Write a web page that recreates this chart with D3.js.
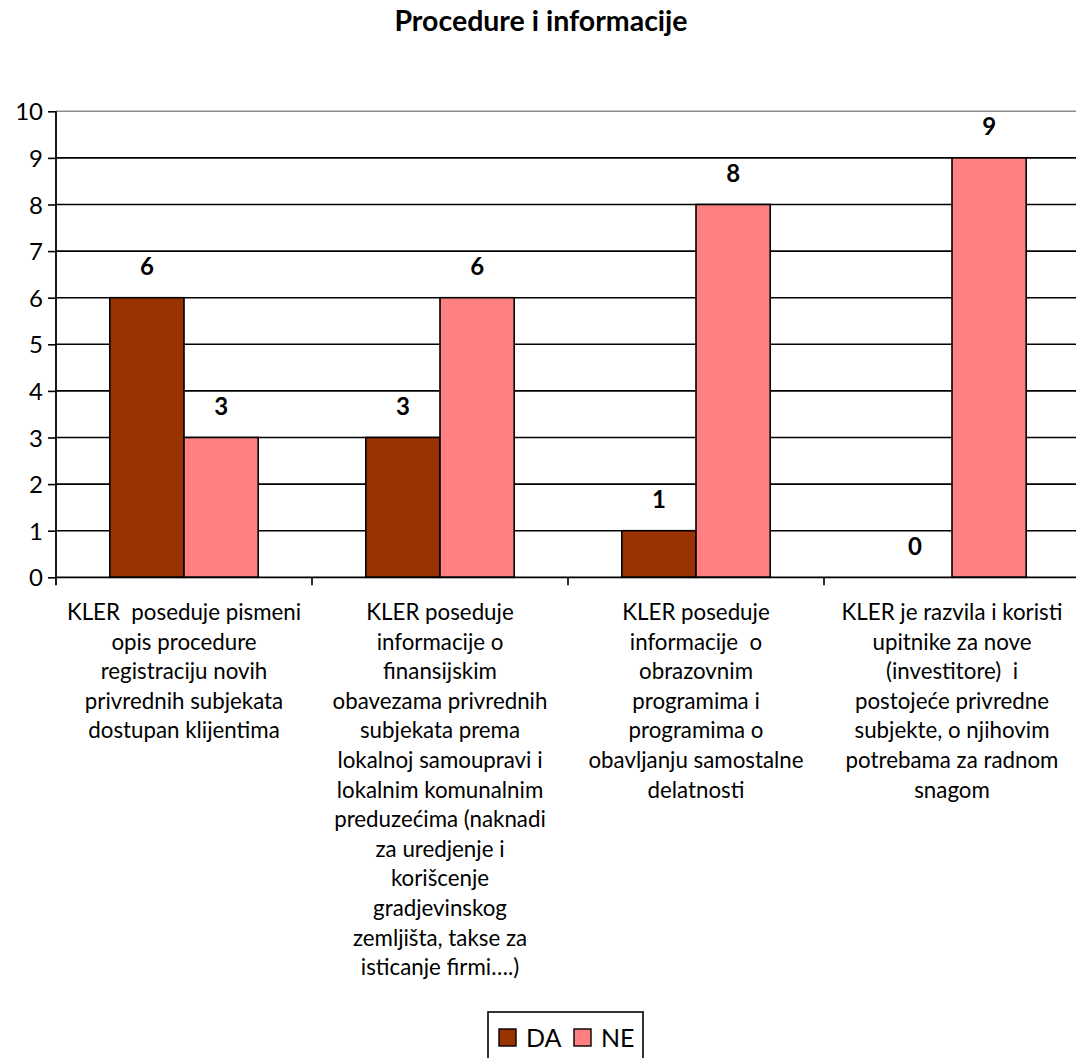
<!DOCTYPE html>
<html>
<head>
<meta charset="utf-8">
<script src="https://cdn.jsdelivr.net/npm/d3@7"></script>
<style>
  html, body { margin: 0; padding: 0; background: #fff; }
  svg { display: block; font-family: Lato, "Noto Sans", sans-serif; }
</style>
</head>
<body>
<svg id="chart" width="1076" height="1058"></svg>
<script>
const title = "Procedure i informacije";

const categories = [
  ["KLER  poseduje pismeni", "opis procedure", "registraciju novih", "privrednih subjekata", "dostupan klijentima"],
  ["KLER poseduje", "informacije o", "finansijskim", "obavezama privrednih", "subjekata prema", "lokalnoj samoupravi i", "lokalnim komunalnim", "preduzećima (naknadi", "za uredjenje i", "korišcenje", "gradjevinskog", "zemljišta, takse za", "isticanje firmi….)"],
  ["KLER poseduje", "informacije  o", "obrazovnim", "programima i", "programima o", "obavljanju samostalne", "delatnosti"],
  ["KLER je razvila i koristi", "upitnike za nove", "(investitore)  i", "postojeće privredne", "subjekte, o njihovim", "potrebama za radnom", "snagom"]
];

const seriesNames = ["DA", "NE"];
const daValues = [6, 3, 1, 0];
const neValues = [3, 6, 8, 9];
const seriesColors = ["#993300", "#FF8080"];
const yTicks = [0, 1, 2, 3, 4, 5, 6, 7, 8, 9, 10];

const seriesValues = [daValues, neValues];
const rows = categories.map((c, i) => ({
  idx: i,
  lines: c,
  values: seriesNames.map((s, j) => ({ key: s, value: seriesValues[j][i], color: seriesColors[j] }))
}));

const svg = d3.select("#chart");
const plot = { left: 56, right: 1080, top: 111.3, bottom: 577.3 };

const x0 = d3.scaleBand()
  .domain(rows.map(r => r.idx))
  .range([plot.left, plot.right])
  .paddingInner(0).paddingOuter(0);

const x1 = d3.scaleBand()
  .domain(seriesNames)
  .range([0, x0.bandwidth()])
  .paddingInner(0).paddingOuter(0.725);

const y = d3.scaleLinear().domain([0, 10]).range([plot.bottom, plot.top]);

// title
svg.append("text")
  .attr("x", 541).attr("y", 31)
  .attr("text-anchor", "middle")
  .attr("font-weight", "bold")
  .attr("font-size", 28.5)
  .text(title);

// horizontal gridlines
svg.append("g")
  .selectAll("line")
  .data(yTicks.filter(t => t > 0))
  .join("line")
  .attr("x1", plot.left).attr("x2", plot.right)
  .attr("y1", d => y(d)).attr("y2", d => y(d))
  .attr("stroke", d => d === 10 ? "#8c8c8c" : "#000")
  .attr("stroke-width", 1.6);

// bars
const groups = svg.append("g")
  .selectAll("g")
  .data(rows)
  .join("g")
  .attr("transform", d => `translate(${x0(d.idx)},0)`);

groups.selectAll("rect")
  .data(d => d.values.filter(v => v.value > 0))
  .join("rect")
  .attr("x", d => x1(d.key))
  .attr("y", d => y(d.value))
  .attr("width", x1.bandwidth())
  .attr("height", d => y(0) - y(d.value))
  .attr("fill", d => d.color)
  .attr("stroke", "#000")
  .attr("stroke-width", 1.6);

// value labels
groups.selectAll("text.val")
  .data(d => d.values)
  .join("text")
  .attr("class", "val")
  .attr("x", d => x1(d.key) + x1.bandwidth() / 2)
  .attr("y", d => y(d.value) - 22.5)
  .attr("text-anchor", "middle")
  .attr("font-weight", "bold")
  .attr("font-size", 24)
  .text(d => d.value);

// y axis
const yAxis = d3.axisLeft(y).tickValues(yTicks).tickSize(8).tickPadding(5).tickFormat(d3.format("d"));
const gy = svg.append("g").attr("transform", `translate(${plot.left},0)`).call(yAxis);
gy.select(".domain").remove();
gy.selectAll(".tick line").attr("stroke", "#000").attr("stroke-width", 1.6);
gy.selectAll(".tick text").attr("font-size", 24).attr("font-family", "Lato, 'Noto Sans', sans-serif").attr("fill", "#000").attr("dy", "0.36em");
svg.append("line")
  .attr("x1", plot.left).attr("x2", plot.left)
  .attr("y1", plot.top).attr("y2", plot.bottom + 8)
  .attr("stroke", "#000").attr("stroke-width", 1.8);

// x axis baseline and category separators
svg.append("line")
  .attr("x1", plot.left).attr("x2", plot.right)
  .attr("y1", y(0)).attr("y2", y(0))
  .attr("stroke", "#000").attr("stroke-width", 1.8);
svg.append("g")
  .selectAll("line")
  .data(rows.slice(1))
  .join("line")
  .attr("x1", d => x0(d.idx)).attr("x2", d => x0(d.idx))
  .attr("y1", y(0)).attr("y2", y(0) + 8)
  .attr("stroke", "#000").attr("stroke-width", 1.6);

// category labels
const lineH = 29.6;
svg.append("g")
  .selectAll("text")
  .data(rows)
  .join("text")
  .attr("text-anchor", "middle")
  .attr("font-size", 22.3)
  .attr("fill", "#000")
  .each(function (d) {
    const cx = x0(d.idx) + x0.bandwidth() / 2;
    d3.select(this).selectAll("tspan")
      .data(d.lines)
      .join("tspan")
      .attr("x", cx)
      .attr("y", (l, i) => 620 + i * lineH)
      .attr("xml:space", "preserve")
      .text(l => l);
  });

// legend
const legend = svg.append("g");
legend.append("rect")
  .attr("x", 488).attr("y", 1012)
  .attr("width", 155).attr("height", 60)
  .attr("fill", "#fff").attr("stroke", "#000").attr("stroke-width", 1.6);
const legX = [499, 574];
const items = legend.selectAll("g.item")
  .data(seriesNames.map((s, i) => ({ name: s, color: seriesColors[i], x: legX[i] })))
  .join("g").attr("class", "item");
items.append("rect")
  .attr("x", d => d.x).attr("y", 1029)
  .attr("width", 17).attr("height", 17)
  .attr("fill", d => d.color).attr("stroke", "#000").attr("stroke-width", 1.4);
items.append("text")
  .attr("x", d => d.x + 27).attr("y", 1047)
  .attr("font-size", 25)
  .text(d => d.name);
</script>
</body>
</html>
